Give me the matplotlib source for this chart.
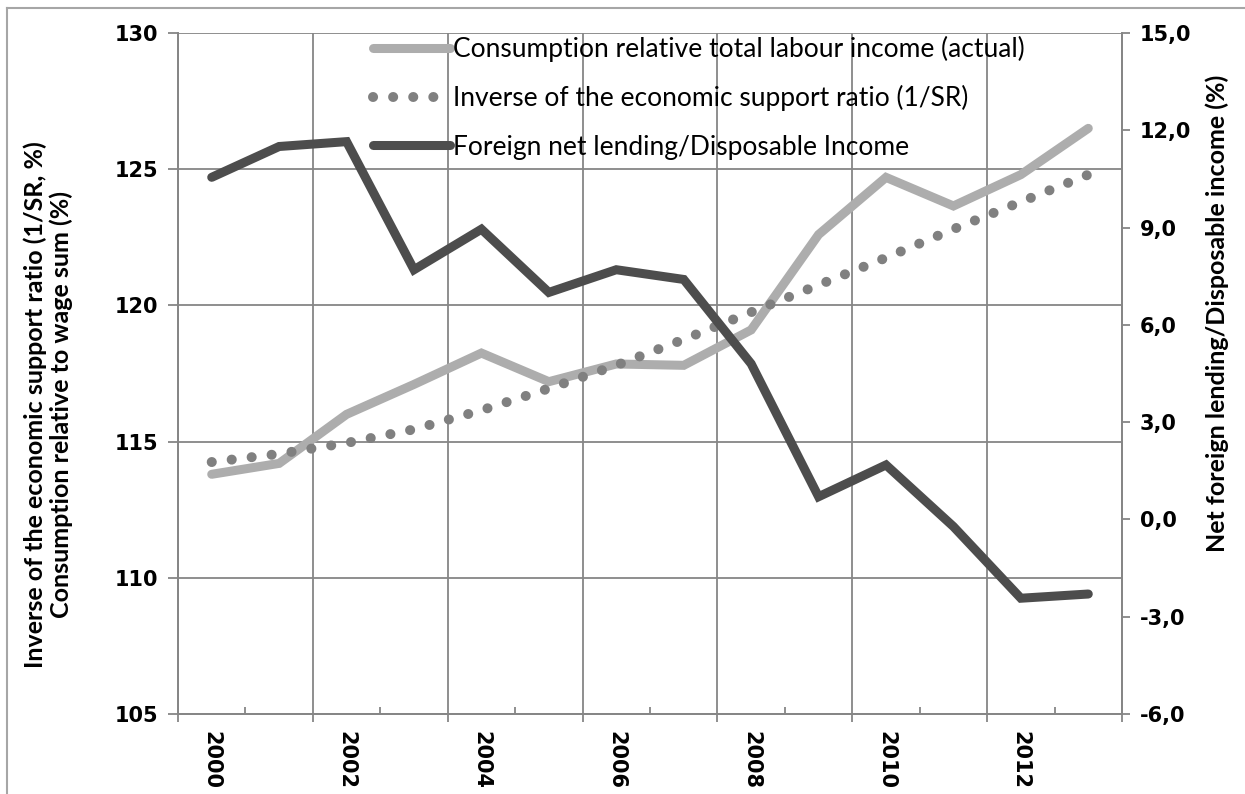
import matplotlib
matplotlib.use("Agg")
import matplotlib.pyplot as plt
from matplotlib.lines import Line2D
from matplotlib.ticker import FixedLocator, NullFormatter

# ---- data -------------------------------------------------------------
years = [2000, 2001, 2002, 2003, 2004, 2005, 2006,
         2007, 2008, 2009, 2010, 2011, 2012, 2013]
consumption_actual = [113.8, 114.2, 116.0, 117.1, 118.25, 117.2, 117.85,
                      117.8, 119.1, 122.6, 124.7, 123.65, 124.8, 126.5]
inverse_support_ratio = [114.25, 114.55, 114.95, 115.45, 116.15, 116.95, 117.8,
                         118.75, 119.75, 120.75, 121.75, 122.8, 123.8, 124.8]
net_lending = [10.55, 11.5, 11.65, 7.7, 8.95, 7.0, 7.7,
               7.4, 4.8, 0.7, 1.68, -0.22, -2.43, -2.3]

left_ticks = [105, 110, 115, 120, 125, 130]
right_ticks = [-6, -3, 0, 3, 6, 9, 12, 15]

series_labels = [
    "Consumption relative total labour income (actual)",
    "Inverse of the economic support ratio (1/SR)",
    "Foreign net lending/Disposable Income",
]
left_title = ("Inverse of the economic support ratio (1/SR, %)\n"
              "Consumption relative to wage sum (%)")
right_title = "Net foreign lending/Disposable income (%)"

# ---- styling ----------------------------------------------------------
W, H, DPI = 1245, 794, 100
GRID = "#868686"
C_LIGHT = "#ADADAD"
C_DOT = "#808080"
C_DARK = "#4D4D4D"
LW = 6.5
TICK_FONT = dict(family="DejaVu Sans", weight="bold", size=15)
TITLE_FONT = dict(family="Lato", weight="bold", size=18)
LEGEND_FONT = dict(family="Lato", size=19)

fig = plt.figure(figsize=(W / DPI, H / DPI), dpi=DPI)
L, R, T, B = 178, 1122, 33, 714
ax = fig.add_axes([L / W, 1 - B / H, (R - L) / W, (B - T) / H])
ax2 = ax.twinx()

x = list(range(len(years)))

l1, = ax.plot(x, consumption_actual, color=C_LIGHT, lw=LW,
              solid_capstyle="round", solid_joinstyle="miter", zorder=3)
l2, = ax.plot(x, inverse_support_ratio, color=C_DOT, lw=7.2,
              linestyle=(0, (0.01, 2.0)), dash_capstyle="round", zorder=4)
l3, = ax2.plot(x, net_lending, color=C_DARK, lw=LW,
               solid_capstyle="round", solid_joinstyle="miter", zorder=3)

# ---- axes limits & ticks ----------------------------------------------
ax.set_xlim(-0.5, len(years) - 0.5)
ax.set_ylim(left_ticks[0], left_ticks[-1])
ax2.set_ylim(right_ticks[0], right_ticks[-1])

ax.set_yticks(left_ticks)
ax.set_yticklabels([str(v) for v in left_ticks], **TICK_FONT)
ax2.set_yticks(right_ticks)
ax2.set_yticklabels([f"{v:.1f}".replace(".", ",") for v in right_ticks], **TICK_FONT)

label_pos = x[::2]
ax.set_xticks(label_pos)
ax.set_xticklabels([str(years[i]) for i in label_pos], rotation=270, **TICK_FONT)
ax.tick_params(axis="x", which="major", length=0, pad=12)

# category boundaries: outward ticks + vertical grid every two years
ax.xaxis.set_minor_locator(FixedLocator([i - 0.5 for i in range(0, len(years) + 1, 2)]))
ax.tick_params(axis="x", which="minor", direction="out", length=5.5, width=1.3, color=GRID)
ax.xaxis.grid(True, which="minor", color=GRID, lw=1.3)

# inward ticks on the remaining boundaries
sec = ax.secondary_xaxis("bottom")
sec.set_xticks([i - 0.5 for i in range(1, len(years), 2)])
sec.xaxis.set_major_formatter(NullFormatter())
sec.tick_params(direction="in", length=5, width=1.3, color=GRID)
for s in sec.spines.values():
    s.set_visible(False)

ax.yaxis.grid(True, color=GRID, lw=1.3)
ax.tick_params(axis="y", direction="out", length=7, width=1.3, color=GRID, pad=7)
ax2.tick_params(axis="y", direction="out", length=6, width=1.3, color=GRID, pad=7)

for a in (ax, ax2):
    for name, s in a.spines.items():
        s.set_color(GRID)
        s.set_linewidth(1.3)
    a.spines["top"].set_visible(False)
ax.set_axisbelow(True)

# ---- titles -------------------------------------------------------------
fig.text(48 / W, 1 - 405 / H, left_title, rotation=90, ha="center", va="center",
         multialignment="center", linespacing=1.1, **TITLE_FONT)
fig.text(1217 / W, 1 - 313 / H, right_title, rotation=90, ha="center", va="center",
         **TITLE_FONT)

# ---- legend -------------------------------------------------------------
leg = ax2.legend([l1, l2, l3], series_labels, loc="upper left",
                 bbox_to_anchor=(373 / W, 1 - 36 / H), bbox_transform=fig.transFigure,
                 frameon=False, prop=LEGEND_FONT, handlelength=2.92,
                 handletextpad=0.12, labelspacing=0.88, borderpad=0, borderaxespad=0)

# ---- outer frame ----------------------------------------------------------
fig.add_artist(Line2D([7 / W, 7 / W], [0, 1 - 8 / H], transform=fig.transFigure,
                      color="#A6A6A6", lw=1.5))
fig.add_artist(Line2D([7 / W, 1], [1 - 8 / H, 1 - 8 / H], transform=fig.transFigure,
                      color="#A6A6A6", lw=1.5))

fig.savefig("out.png", dpi=DPI)
